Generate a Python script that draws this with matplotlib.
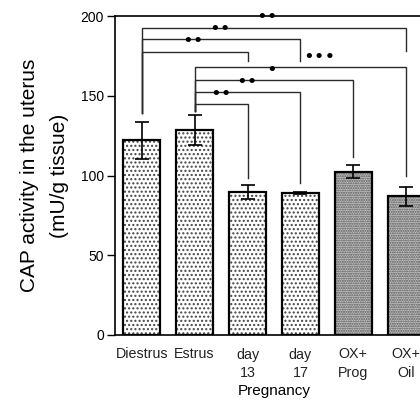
import matplotlib
matplotlib.use("Agg")
import matplotlib.pyplot as plt
import numpy as np

plt.rcParams['font.family'] = ['Liberation Sans', 'DejaVu Sans']
plt.rcParams['hatch.linewidth'] = 1.0

# data
groups = ["Diestrus", "Estrus", "day\n13", "day\n17", "OX+\nProg", "OX+\nOil"]
cap_mean = [122, 128.5, 89.8, 89, 102.4, 87]
cap_err = [11.5, 9.5, 4.5, 0.5, 4.2, 6]

# significance brackets: (from bar, to bar, line level, drop end, label, label x)
brk_from = [0, 0, 0, 1, 1, 1, 1]
brk_to = [5, 3, 2, 5, 4, 3, 2]
brk_level = [192.7, 185.6, 177.6, 168, 160, 152.4, 144.8]
brk_end = [178, 172, 172, 100, 111.6, 95.3, 98.4]
brk_label = ["**", "**", "**", "***", "*", "**", "**"]
brk_lab_x = [2.37, 1.48, 0.97, 3.36, 2.45, 1.99, 1.50]
start_bottom = [139.2, 140.5]

x = np.arange(len(groups))

fig = plt.figure(figsize=(4.2, 4.01), dpi=100)
ax = fig.add_axes([115/420, 66/401, 315/420, 319/401])

faces = ['white'] * 4 + ['#c2c2c2'] * 2
dots = ['#444444'] * 4 + ['#555555'] * 2
hatches = ['....', '....', '....', '....', '.......', '.......']
for i in range(len(groups)):
    # dotted fill first, then the black outline on top
    ax.bar(x[i], cap_mean[i], width=0.69, color=faces[i], edgecolor=dots[i],
           linewidth=0, hatch=hatches[i], zorder=2)
    ax.bar(x[i], cap_mean[i], width=0.69, fill=False, edgecolor='black',
           linewidth=1.6, zorder=2.5)
ax.errorbar(x, cap_mean, yerr=cap_err, fmt='none', ecolor='black',
            elinewidth=1.2, capsize=5, capthick=1.2, zorder=3)

lc = '#2a2a2a'
for a, b, lev, end, lab, lx in zip(brk_from, brk_to, brk_level, brk_end, brk_label, brk_lab_x):
    ax.plot([x[a], x[a], x[b], x[b]], [start_bottom[a], lev, lev, end],
            color=lc, lw=1.0, zorder=1, solid_joinstyle='miter')
    ax.text(lx, lev + 0.8, '\u2022' * len(lab), ha='center', va='bottom',
            fontsize=13, family='DejaVu Sans', color='black')

ax.set_xlim(-0.505, 5.45)
ax.set_ylim(0, 200)
ax.set_yticks([0, 50, 100, 150, 200])
ax.tick_params(axis='y', direction='out', length=6, width=1, labelsize=10, pad=2)
ax.set_xticks(x)
ax.set_xticklabels(groups, fontsize=10.3, linespacing=1.45, color='#222222')
ax.tick_params(axis='x', length=0, pad=9)
ax.spines['right'].set_visible(False)
for s in ['left', 'bottom', 'top']:
    ax.spines[s].set_linewidth(1.2)

ax.set_ylabel("CAP activity in the uterus\n(mU/g tissue)", fontsize=15,
              linespacing=1.75, labelpad=8)
ax.text(np.mean(x[2:4]), -35, "Pregnancy", ha='center', va='center', fontsize=11)

fig.savefig("out.png", dpi=100)
